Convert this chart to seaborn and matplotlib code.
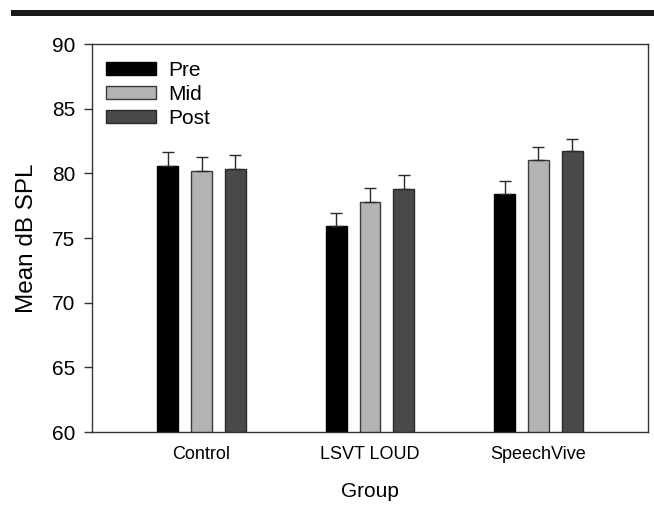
import matplotlib
matplotlib.use("Agg")
import matplotlib.pyplot as plt
import seaborn as sns
import pandas as pd
from matplotlib.patches import Rectangle, Patch

groups = ["Control", "LSVT LOUD", "SpeechVive"]
phases = ["Pre", "Mid", "Post"]
pre_vals = [80.6, 75.9, 78.4]
mid_vals = [80.15, 77.8, 81.0]
post_vals = [80.3, 78.8, 81.7]
pre_err = [1.07, 1.03, 1.0]
mid_err = [1.13, 1.04, 1.03]
post_err = [1.11, 1.08, 0.99]
yticks = [60, 65, 70, 75, 80, 85, 90]

colors = {"Pre": "#000000", "Mid": "#b3b3b3", "Post": "#4a4a4a"}
edges = {"Pre": "#000000", "Mid": "#3a3a3a", "Post": "#2a2a2a"}

vals = {"Pre": pre_vals, "Mid": mid_vals, "Post": post_vals}
errs = {"Pre": pre_err, "Mid": mid_err, "Post": post_err}

rows = []
for p in phases:
    for g, v in zip(groups, vals[p]):
        rows.append({"Group": g, "Phase": p, "SPL": v})
df = pd.DataFrame(rows)

sns.set_style("white")
plt.rcParams["font.family"] = ["Liberation Sans", "DejaVu Sans"]
plt.rcParams["text.color"] = "black"
plt.rcParams["axes.labelcolor"] = "black"
plt.rcParams["xtick.color"] = "black"
plt.rcParams["ytick.color"] = "black"

fig = plt.figure(figsize=(6.54, 5.14), dpi=100)
ax = fig.add_axes([92/654, 1-432/514, (648-92)/654, (432-44)/514])

sns.barplot(data=df, x="Group", y="SPL", hue="Phase", order=groups,
            hue_order=phases, palette=colors, width=0.6, gap=0.38,
            errorbar=None, ax=ax, linewidth=1.0, legend=False)

for cont, p in zip(ax.containers, phases):
    for bar, e in zip(cont, errs[p]):
        bar.set_edgecolor(edges[p])
        bar.set_linewidth(1.0)
        xc = bar.get_x() + bar.get_width()/2
        h = bar.get_height() + bar.get_y()
        ax.errorbar([xc], [h], yerr=[[0], [e]], fmt="none", ecolor="#2a2a2a",
                    elinewidth=1.0, capsize=4.3, capthick=1.0, zorder=1)

ax.set_ylim(60, 90)
ax.set_xlim(-0.65, 2.65)
ax.set_yticks(yticks)
ax.set_yticklabels([str(t) for t in yticks], fontsize=15)
ax.tick_params(axis="y", direction="out", length=6, width=1, color="#333333", pad=6, left=True)
ax.tick_params(axis="x", length=0, labelsize=13, pad=10)
for s in ax.spines.values():
    s.set_visible(True)
    s.set_color("#333333")
    s.set_linewidth(1.0)
ax.set_xlabel("Group", fontsize=15, labelpad=14)
ax.set_ylabel("Mean dB SPL", fontsize=17.5, labelpad=10)

handles = [Patch(facecolor=colors[p], edgecolor=edges[p], linewidth=1.0) for p in phases]
ax.legend(handles, phases, loc="upper left", bbox_to_anchor=(0.0, 0.992), frameon=False,
          fontsize=15, handlelength=2.4, handleheight=0.58, labelspacing=0.25,
          handletextpad=0.6, borderaxespad=0.25)

fig.add_artist(Rectangle((11/654, 1-16/514), 1-11/654, 6/514, transform=fig.transFigure,
                         facecolor="#1a1a1a", edgecolor="none"))

fig.savefig("out.png", dpi=100)
